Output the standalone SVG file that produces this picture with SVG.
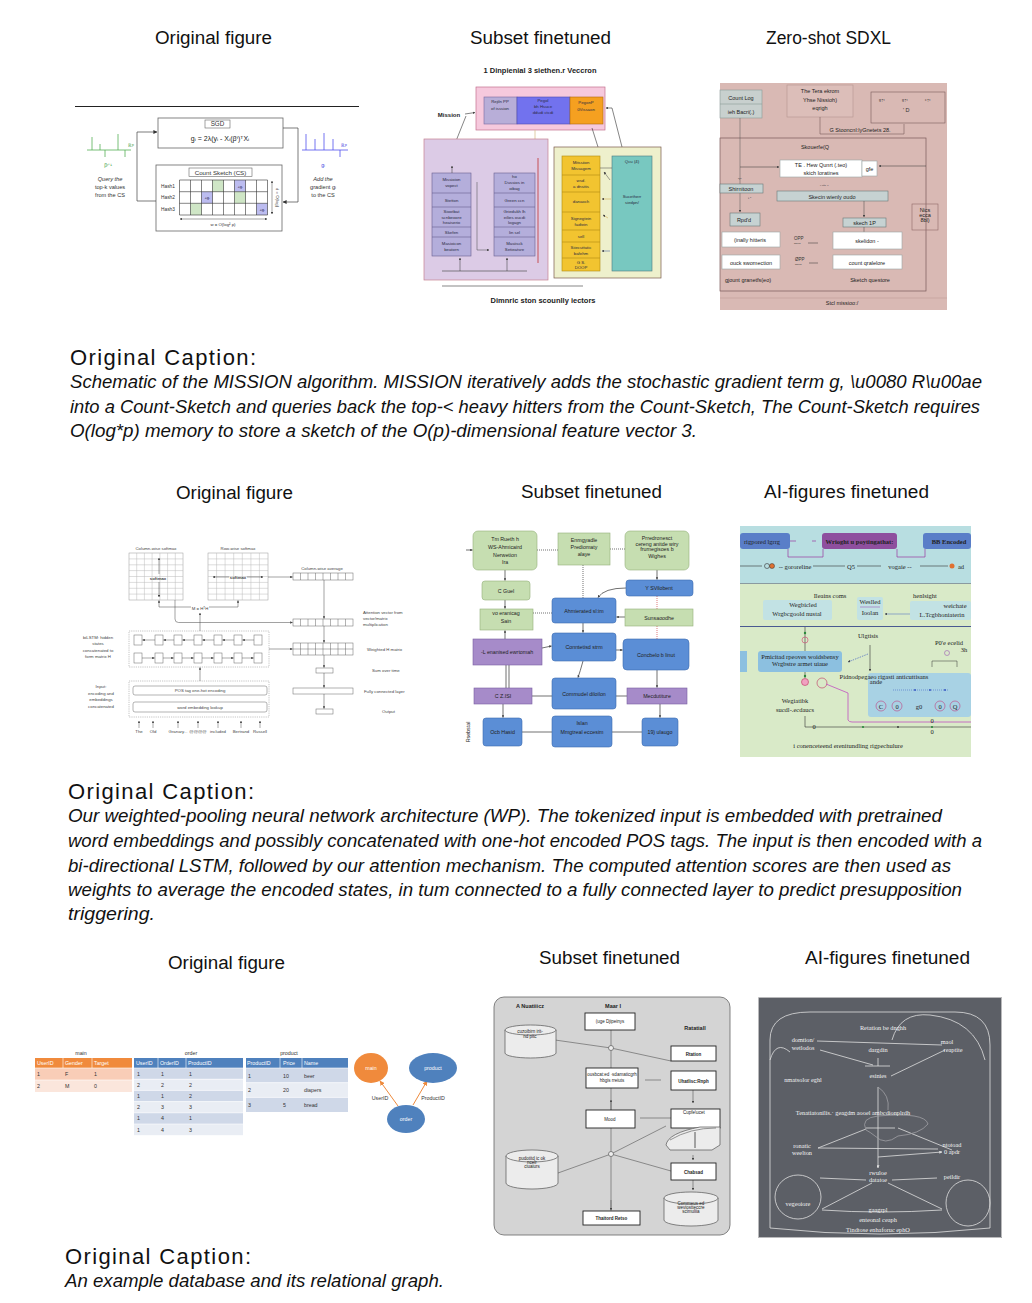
<svg xmlns="http://www.w3.org/2000/svg" width="1032" height="1303" viewBox="0 0 1032 1303">
<style>
.h{font-family:"Liberation Sans",Arial,sans-serif;font-size:18px;fill:#111;text-anchor:middle}
.cap{font-family:"Liberation Sans",Arial,sans-serif;font-size:22px;fill:#111}
.capi{font-family:"Liberation Sans",Arial,sans-serif;font-size:18px;font-style:italic;fill:#111}
.s{font-family:"Liberation Sans",Arial,sans-serif}
.m{text-anchor:middle}
.ln{fill:none;stroke:#444;stroke-width:0.7}
.g4{fill:none;stroke:#666;stroke-width:0.5}
.c4{fill:#fff;stroke:#666;stroke-width:0.5}
.t4{font-family:"Liberation Sans",Arial,sans-serif;font-size:4.3px;fill:#444}
.gr{fill:#c6deb1;stroke:#93b07a;stroke-width:0.6}
.bl{fill:#5b8ed6;stroke:#3d6cb0;stroke-width:0.6}
.pu{fill:#a68bc9;stroke:#7a60a0;stroke-width:0.6}
.t5{font-family:"Liberation Sans",Arial,sans-serif;font-size:5.3px;fill:#222;text-anchor:middle}
.l5{fill:none;stroke:#333;stroke-width:0.7}
.t6{font-family:"Liberation Serif","Times New Roman",serif;font-size:6.5px;fill:#222;text-anchor:middle}
.t7{font-family:"Liberation Sans",Arial,sans-serif;font-size:5.3px;fill:#333}
.th{font-family:"Liberation Sans",Arial,sans-serif;font-size:5.3px;fill:#fff}
.b8{fill:#fff;stroke:#222;stroke-width:0.9}
.t8{font-family:"Liberation Sans",Arial,sans-serif;font-size:4.5px;fill:#222;text-anchor:middle}
.l8{fill:none;stroke:#555;stroke-width:0.6}
.cy{fill:#ececec;stroke:#555;stroke-width:0.7}
.t9{font-family:"Liberation Serif","Times New Roman",serif;font-size:6.3px;fill:#f2f2f2;text-anchor:middle}
.l9{fill:none;stroke:#e0e0e0;stroke-width:0.8}
.t2{font-family:"Liberation Sans",Arial,sans-serif;font-size:4.3px;fill:#2a2a40;text-anchor:middle}
.t3{font-family:"Liberation Sans",Arial,sans-serif;font-size:5.5px;fill:#222;text-anchor:middle}
.w3{fill:#fff;stroke:#9aa6a6;stroke-width:0.6}
.k3{fill:#c6d2d2;stroke:#6a7878;stroke-width:0.6}
</style>
<defs>
<marker id="a" viewBox="0 0 10 10" refX="9" refY="5" markerWidth="4" markerHeight="4" orient="auto-start-reverse" markerUnits="userSpaceOnUse"><path d="M0,0L10,5L0,10z" fill="#333"/></marker>
<marker id="as" viewBox="0 0 10 10" refX="9" refY="5" markerWidth="2.6" markerHeight="2.6" orient="auto-start-reverse" markerUnits="userSpaceOnUse"><path d="M0,0L10,5L0,10z" fill="#444"/></marker>
<marker id="ao" viewBox="0 0 10 10" refX="9" refY="5" markerWidth="5" markerHeight="5" orient="auto-start-reverse" markerUnits="userSpaceOnUse"><path d="M0,0L10,5L0,10z" fill="#ee8a3c"/></marker>
<marker id="aw" viewBox="0 0 10 10" refX="9" refY="5" markerWidth="3" markerHeight="3" orient="auto-start-reverse" markerUnits="userSpaceOnUse"><path d="M0,0L10,5L0,10z" fill="#e0e0e0"/></marker>
</defs>
<rect width="1032" height="1303" fill="#fff"/>

<g id="headers">
<text class="h" x="213.5" y="44" textLength="117" lengthAdjust="spacingAndGlyphs">Original figure</text>
<text class="h" x="540.5" y="44" textLength="141" lengthAdjust="spacingAndGlyphs">Subset finetuned</text>
<text class="h" x="828.5" y="44" textLength="125" lengthAdjust="spacingAndGlyphs">Zero-shot SDXL</text>
<text class="h" x="234.5" y="499" textLength="117" lengthAdjust="spacingAndGlyphs">Original figure</text>
<text class="h" x="591.5" y="498" textLength="141" lengthAdjust="spacingAndGlyphs">Subset finetuned</text>
<text class="h" x="846.5" y="498" textLength="165" lengthAdjust="spacingAndGlyphs">AI-figures finetuned</text>
<text class="h" x="226.5" y="969" textLength="117" lengthAdjust="spacingAndGlyphs">Original figure</text>
<text class="h" x="609.5" y="964" textLength="141" lengthAdjust="spacingAndGlyphs">Subset finetuned</text>
<text class="h" x="887.5" y="964" textLength="165" lengthAdjust="spacingAndGlyphs">AI-figures finetuned</text>
</g>

<g id="captions">
<text class="cap" x="70" y="365" textLength="186" lengthAdjust="spacing">Original Caption:</text>
<text class="capi" x="70" y="388" textLength="912" lengthAdjust="spacingAndGlyphs">Schematic of the MISSION algorithm. MISSION iteratively adds the stochastic gradient term g, \u0080 R\u00ae</text>
<text class="capi" x="70" y="413" textLength="910" lengthAdjust="spacingAndGlyphs">into a Count-Sketch and queries back the top-&lt; heavy hitters from the Count-Sketch, The Count-Sketch requires</text>
<text class="capi" x="70" y="437" textLength="627" lengthAdjust="spacingAndGlyphs">O(log*p) memory to store a sketch of the O(p)-dimensional feature vector 3.</text>
<text class="cap" x="68" y="799" textLength="186" lengthAdjust="spacing">Original Caption:</text>
<text class="capi" x="68" y="822" textLength="874" lengthAdjust="spacingAndGlyphs">Our weighted-pooling neural network architecture (WP). The tokenized input is embedded with pretrained</text>
<text class="capi" x="68" y="847" textLength="914" lengthAdjust="spacingAndGlyphs">word embeddings and possibly concatenated with one-hot encoded POS tags. The input is then encoded with a</text>
<text class="capi" x="68" y="872" textLength="883" lengthAdjust="spacingAndGlyphs">bi-directional LSTM, followed by our attention mechanism. The computed attention scores are then used as</text>
<text class="capi" x="68" y="896" textLength="894" lengthAdjust="spacingAndGlyphs">weights to average the encoded states, in tum connected to a fully connected layer to predict presupposition</text>
<text class="capi" x="68" y="920" textLength="87" lengthAdjust="spacingAndGlyphs">triggering.</text>
<text class="cap" x="65" y="1264" textLength="186" lengthAdjust="spacing">Original Caption:</text>
<text class="capi" x="65" y="1287" textLength="379" lengthAdjust="spacingAndGlyphs">An example database and its relational graph.</text>
</g>

<!-- ===== Panel 1: original MISSION figure ===== -->
<g id="fig1-original" class="s">
<line x1="75" y1="106.5" x2="359" y2="106.5" stroke="#222" stroke-width="1.2"/>
<g id="sgd">
<rect x="158" y="118" width="125" height="30" fill="#fff" stroke="#666" stroke-width="0.8"/>
<rect x="205" y="120" width="25" height="8" fill="#fff" stroke="#666" stroke-width="0.6"/>
<text x="217.5" y="126.3" font-size="6.3" class="m" fill="#333">SGD</text>
<text x="220" y="141" font-size="7" class="m" fill="#222">gᵢ = 2λ(yᵢ - Xᵢ(βᵗ)ᵀXᵢ</text>
</g>
<g id="count-sketch">
<rect x="156" y="165" width="126" height="66" fill="#fff" stroke="#666" stroke-width="0.8"/>
<rect x="189" y="168" width="63" height="8.5" fill="#fff" stroke="#666" stroke-width="0.6"/>
<text x="220.5" y="174.6" font-size="6.2" class="m" fill="#333">Count Sketch (CS)</text>
<rect x="212.5" y="180" width="11" height="11.7" fill="#cfe6c6"/>
<rect x="234.5" y="180" width="11" height="11.7" fill="#bcbcf0"/>
<rect x="201.5" y="191.7" width="11" height="11.6" fill="#bcbcf0"/>
<rect x="234.5" y="191.7" width="11" height="11.6" fill="#cfe6c6"/>
<rect x="190.5" y="203.3" width="11" height="11.7" fill="#cfe6c6"/>
<rect x="256.5" y="203.3" width="11" height="11.7" fill="#bcbcf0"/>
<path d="M179.5,180H267.5V215H179.5Z M190.5,180V215 M201.5,180V215 M212.5,180V215 M223.5,180V215 M234.5,180V215 M245.5,180V215 M256.5,180V215 M179.5,191.7H267.5 M179.5,203.3H267.5" fill="none" stroke="#333" stroke-width="0.6"/>
<text x="240" y="187.5" font-size="4" class="m" fill="#224">+gᵢ</text>
<text x="207" y="199" font-size="4" class="m" fill="#224">+gᵢ</text>
<text x="262" y="210.5" font-size="4" class="m" fill="#224">+gᵢ</text>
<text x="168" y="187.8" font-size="4.8" class="m" fill="#333">Hash1</text>
<text x="168" y="199.4" font-size="4.8" class="m" fill="#333">Hash2</text>
<text x="168" y="211" font-size="4.8" class="m" fill="#333">Hash3</text>
<line x1="272" y1="181" x2="272" y2="214" stroke="#444" stroke-width="0.5" marker-start="url(#as)" marker-end="url(#as)"/>
<text transform="translate(276,197.5) rotate(90)" font-size="4.3" class="m" fill="#333">d = O(log)</text>
<line x1="180" y1="219" x2="267" y2="219" stroke="#444" stroke-width="0.5" marker-start="url(#as)" marker-end="url(#as)"/>
<text x="223" y="226" font-size="4.3" class="m" fill="#333">w = O(log² p)</text>
</g>
<path d="M156,201H137V132H157" class="ln" marker-end="url(#a)"/>
<path d="M283,128H298V202H283" class="ln" marker-end="url(#a)"/>
<g id="beta-chart" stroke="#55b055" stroke-width="0.8">
<line x1="87" y1="150" x2="131" y2="150"/>
<line x1="92" y1="150" x2="92" y2="137"/>
<line x1="100" y1="150" x2="100" y2="144"/>
<line x1="105" y1="150" x2="105" y2="157"/>
<line x1="118" y1="150" x2="118" y2="134"/>
<line x1="125" y1="150" x2="125" y2="157"/>
</g>
<text x="128" y="147" font-size="5" fill="#44a044">ℝᵖ</text>
<text x="108" y="167" font-size="5" class="m" fill="#44a044">βᵗ⁺¹</text>
<text x="110" y="181" font-size="5.6" class="m" fill="#333" font-style="italic">Query the</text>
<text x="110" y="189" font-size="5.6" class="m" fill="#333">top-k values</text>
<text x="110" y="197" font-size="5.6" class="m" fill="#333">from the CS</text>
<g id="grad-chart" stroke="#5050ee" stroke-width="0.8">
<line x1="302" y1="150" x2="348" y2="150"/>
<line x1="306" y1="150" x2="306" y2="134"/>
<line x1="315" y1="150" x2="315" y2="139"/>
<line x1="324" y1="150" x2="324" y2="133"/>
<line x1="333" y1="150" x2="333" y2="139"/>
<line x1="340" y1="150" x2="340" y2="157"/>
</g>
<text x="341" y="147" font-size="5" fill="#4040e0">ℝᵖ</text>
<text x="323" y="167" font-size="5" class="m" fill="#4040e0">gᵢ</text>
<text x="323" y="181" font-size="5.6" class="m" fill="#333" font-style="italic">Add the</text>
<text x="323" y="189" font-size="5.6" class="m" fill="#333">gradient gᵢ</text>
<text x="323" y="197" font-size="5.6" class="m" fill="#333">to the CS</text>
</g>

<!-- ===== Panel 2: subset finetuned (MISSION) ===== -->
<g id="fig1-subset" class="s">
<text x="540" y="73" font-size="7.5" font-weight="bold" class="m" fill="#222">1 Dinpienial 3 siethen.r Veccron</text>
<g id="p2-top">
<rect x="476" y="87" width="129" height="43" fill="#f6c9dd" stroke="#c4708e" stroke-width="0.7"/>
<rect x="484" y="97" width="33" height="27" fill="#b8aed8" stroke="#7a6aa0" stroke-width="0.6"/>
<rect x="517" y="97" width="53" height="27" fill="#7272ee" stroke="#4a4ab0" stroke-width="0.6"/>
<rect x="570" y="97" width="33" height="27" fill="#f5a020" stroke="#b06a10" stroke-width="0.6"/>
<text class="t2" x="500" y="103">Rejiln PP</text>
<text class="t2" x="500" y="110">of isssion</text>
<text class="t2" x="543" y="102">Pegol</text>
<text class="t2" x="543" y="108">bh Hsuce</text>
<text class="t2" x="543" y="114" fill="#3030a0">ddudi ctcdi</text>
<text class="t2" x="586" y="104">PegonP</text>
<text class="t2" x="586" y="111">0Vissaon</text>
</g>
<text x="449" y="117" font-size="6" font-weight="bold" class="m" fill="#222">Mission</text>
<line x1="465" y1="114" x2="475" y2="112.5" stroke="#333" stroke-width="0.6" marker-end="url(#as)"/>
<line x1="456" y1="141" x2="466" y2="116" stroke="#333" stroke-width="0.6"/>
<line x1="535" y1="130" x2="535" y2="139" stroke="#d8c090" stroke-width="0.8"/>
<line x1="592" y1="128" x2="598" y2="147" stroke="#333" stroke-width="0.6"/>
<path d="M606,108H612L622,147" fill="none" stroke="#333" stroke-width="0.6" marker-start="url(#as)"/>
<line x1="584" y1="147" x2="580" y2="153" stroke="#333" stroke-width="0.6" marker-end="url(#as)"/>
<g id="p2-purple">
<rect x="424" y="139" width="124" height="141" fill="#dccbe6" stroke="#c58090" stroke-width="0.7"/>
<rect x="432" y="173" width="39" height="83" fill="#b4aedb" stroke="#6a6090" stroke-width="0.6"/>
<path d="M432,193H471M432,207H471M432,227H471M432,237H471" stroke="#6a6090" stroke-width="0.6"/>
<rect x="494" y="173" width="41" height="83" fill="#b4aedb" stroke="#6a6090" stroke-width="0.6"/>
<path d="M494,193H535M494,207H535M494,227H535M494,237H535" stroke="#6a6090" stroke-width="0.6"/>
<text class="t2" x="451.5" y="181">Missioion</text>
<text class="t2" x="451.5" y="187">vopect</text>
<text class="t2" x="451.5" y="202">Stetton</text>
<text class="t2" x="451.5" y="213">Siootbat</text>
<text class="t2" x="451.5" y="218.5">scnbeoore</text>
<text class="t2" x="451.5" y="224">heaiserio</text>
<text class="t2" x="451.5" y="234">Skefen</text>
<text class="t2" x="451.5" y="245">Masioicon</text>
<text class="t2" x="451.5" y="251">beatorn</text>
<text class="t2" x="514.5" y="178">ho</text>
<text class="t2" x="514.5" y="184">Dussios in</text>
<text class="t2" x="514.5" y="190">oibag</text>
<text class="t2" x="514.5" y="202">Green ccn</text>
<text class="t2" x="514.5" y="213">Griedukh lh</text>
<text class="t2" x="514.5" y="218.5">eilies oucdi</text>
<text class="t2" x="514.5" y="224">logagn</text>
<text class="t2" x="514.5" y="234">lin sel</text>
<text class="t2" x="514.5" y="245">Masiisck</text>
<text class="t2" x="514.5" y="251">Setieatsre</text>
<line x1="452" y1="173" x2="452" y2="166" stroke="#333" stroke-width="0.5" marker-end="url(#as)"/>
<path d="M477,182V250H489" fill="none" stroke="#444" stroke-width="0.5" marker-end="url(#as)"/>
<line x1="538" y1="158" x2="538" y2="263" stroke="#c03030" stroke-width="0.8"/>
<line x1="442" y1="271" x2="527" y2="271" stroke="#555" stroke-width="0.7"/>
<line x1="460" y1="271" x2="460" y2="258" stroke="#333" stroke-width="0.5" marker-end="url(#as)"/>
<line x1="507" y1="271" x2="507" y2="258" stroke="#333" stroke-width="0.5" marker-end="url(#as)"/>
</g>
<g id="p2-yellow">
<rect x="554" y="147" width="107" height="131" fill="#eef0cc" stroke="#7a5a4a" stroke-width="0.7"/>
<rect x="562" y="156" width="38" height="115" fill="#f2c430" stroke="#b08a10" stroke-width="0.6"/>
<path d="M562,175H600M562,192H600M562,212H600M562,230H600M562,242H600M562,258H600" stroke="#b08a10" stroke-width="0.6"/>
<rect x="612" y="156" width="40" height="115" fill="#78c8c0" stroke="#4a7a80" stroke-width="0.6"/>
<text class="t2" x="581" y="164">Mitssiion</text>
<text class="t2" x="581" y="170">Missagem</text>
<text class="t2" x="581" y="182">wsd.</text>
<text class="t2" x="581" y="188">a dnsitis</text>
<text class="t2" x="581" y="203">danaoch</text>
<text class="t2" x="581" y="220">Signegtein</text>
<text class="t2" x="581" y="226">fadtein</text>
<text class="t2" x="581" y="238">sell</text>
<text class="t2" x="581" y="249">Siiecuttatic</text>
<text class="t2" x="581" y="255">bafehm</text>
<text class="t2" x="581" y="264">G S.</text>
<text class="t2" x="581" y="269">DOOP</text>
<text class="t2" x="632" y="163">Qcu (4)</text>
<text class="t2" x="632" y="198">Sucetherr</text>
<text class="t2" x="632" y="204">siedpn/</text>
<line x1="600" y1="168" x2="612" y2="168" stroke="#444" stroke-width="0.5"/>
<line x1="604" y1="172" x2="610" y2="180" stroke="#444" stroke-width="0.5" marker-start="url(#as)"/>
<line x1="602" y1="199" x2="611" y2="199" stroke="#c8a040" stroke-width="0.5" marker-start="url(#as)"/>
<line x1="603" y1="215" x2="608" y2="218" stroke="#c8a040" stroke-width="0.5" marker-start="url(#as)"/>
<line x1="602" y1="251" x2="610" y2="251" stroke="#3050a0" stroke-width="0.5" marker-start="url(#as)"/>
</g>
<line x1="442" y1="286" x2="583" y2="286" stroke="#555" stroke-width="0.7"/>
<text x="543" y="303" font-size="7.5" font-weight="bold" class="m" fill="#222">Dimnric ston scounlly iectors</text>
</g>

<!-- ===== Panel 3: zero-shot SDXL ===== -->
<g id="fig1-sdxl" class="s">
<rect x="720" y="83" width="227" height="227" fill="#d9b9b4"/>
<rect x="720" y="90" width="42" height="28" fill="#c8d0ce" stroke="#8a9a98" stroke-width="0.6"/>
<line x1="720" y1="104" x2="762" y2="104" stroke="#8a9a98" stroke-width="0.6"/>
<text class="t3" x="741" y="100">Count Log</text>
<text class="t3" x="741" y="114">ieh Bacri(.)</text>
<rect x="787" y="85" width="66" height="32" fill="#dcbeb9" stroke="#b59590" stroke-width="0.6"/>
<text class="t3" x="820" y="93">The  Tera ekrom</text>
<text class="t3" x="820" y="101.5">Yhse Nissioh)</text>
<text class="t3" x="820" y="110">eqrigh</text>
<path d="M820,117V134H904V124" fill="none" stroke="#7a5a5a" stroke-width="0.6"/>
<text class="t3" x="860" y="132" fill="#333">G Stooncnl:lyGnetets  28.</text>
<rect x="871" y="92" width="74" height="31" fill="none" stroke="#7a5a5a" stroke-width="0.6"/>
<text x="879" y="102" font-size="5" fill="#333" class="s">ᵍ↑ᵗ</text>
<text x="902" y="102" font-size="5" fill="#333" class="s">ᵍ↑ᵗ</text>
<text x="925" y="102" font-size="5" fill="#333" class="s">ᶜ↑ᵗ</text>
<text x="903" y="112" font-size="5.5" fill="#333" class="s">' D</text>
<rect x="720" y="138" width="206" height="153" fill="none" stroke="#7a5a5a" stroke-width="0.7"/>
<text class="t3" x="815" y="149">Skouerfe(Q</text>
<rect x="780" y="160" width="82" height="17" class="w3"/>
<text class="t3" x="821" y="167">TE . Hew Qunrt (.teo)</text>
<text class="t3" x="821" y="174.5">skich Ioratines</text>
<rect x="862" y="161" width="15" height="15" class="w3"/>
<text class="t3" x="869.5" y="170.5" font-size="4.5">gfe</text>
<line x1="740" y1="167" x2="779" y2="167" stroke="#333" stroke-width="0.5" marker-end="url(#as)"/>
<line x1="926" y1="166" x2="879" y2="166" stroke="#333" stroke-width="0.5" marker-end="url(#as)"/>
<line x1="740" y1="118" x2="740" y2="184" stroke="#555" stroke-width="0.5"/>
<line x1="740" y1="193" x2="740" y2="212" stroke="#555" stroke-width="0.5" marker-end="url(#as)"/>
<text x="738" y="180" font-size="3.5" fill="#444" class="s">ʰʲᵃ</text>
<rect x="720" y="184" width="43" height="9" class="k3"/>
<text class="t3" x="741" y="190.5">Shirnitoon</text>
<text x="748" y="199" font-size="3.5" fill="#444" class="s">ꜰ  ᶜ</text>
<text x="820" y="187" font-size="3.5" fill="#444" class="s">ᵛ  ᶜᵗᵗᵉ         ᵉ</text>
<rect x="777" y="191" width="111" height="10" class="k3"/>
<text class="t3" x="832" y="198.5">Skecin wienly oudo</text>
<line x1="864" y1="201" x2="864" y2="217" stroke="#444" stroke-width="0.5" marker-end="url(#as)"/>
<rect x="843" y="218" width="43" height="9" class="k3"/>
<text class="t3" x="864.5" y="224.5">skech 1P</text>
<line x1="864" y1="227" x2="864" y2="237" stroke="#444" stroke-width="0.5"/>
<rect x="730" y="213" width="30" height="13" class="k3"/>
<text class="t3" x="744" y="221.5">Rpd'd</text>
<rect x="722" y="232" width="58" height="15" class="w3"/>
<text class="t3" x="750" y="242">(inally hitteris</text>
<rect x="722" y="255" width="58" height="14" class="w3"/>
<text class="t3" x="751" y="264.5">ouck swomection</text>
<rect x="833" y="232" width="69" height="17" class="w3"/>
<text class="t3" x="867" y="243">skelidon -</text>
<rect x="833" y="255" width="69" height="14" class="w3"/>
<text class="t3" x="867" y="264.5">count qralelore</text>
<text x="794" y="240" font-size="4.5" fill="#333" class="s">OPP</text>
<text x="794" y="244" font-size="2.5" fill="#333" class="s">ssees</text>
<line x1="808" y1="243" x2="818" y2="243" stroke="#333" stroke-width="0.5"/>
<text x="795" y="261" font-size="4.5" fill="#333" class="s">ØPP</text>
<text x="795" y="265" font-size="2.5" fill="#333" class="s">ssees</text>
<line x1="809" y1="263" x2="818" y2="263" stroke="#333" stroke-width="0.5"/>
<text class="t3" x="748" y="282">gjount granetfs(eo)</text>
<text class="t3" x="870" y="282">Sketch questore</text>
<rect x="912" y="204" width="26" height="26" fill="none" stroke="#906868" stroke-width="0.6"/>
<text class="t3" x="925" y="212" font-size="4">Nics</text>
<text class="t3" x="925" y="217" font-size="4">ecca</text>
<text class="t3" x="925" y="222" font-size="4">8bl)</text>
<line x1="720" y1="298" x2="947" y2="298" stroke="#c09c98" stroke-width="0.6"/>
<text class="t3" x="842" y="305">Stcl missioo:/</text>
</g>

<!-- ===== Panel 4: original WP architecture ===== -->
<g id="fig2-original">
<text class="t4" x="156" y="549.5" text-anchor="middle">Column-wise softmax</text>
<text class="t4" x="238" y="549.5" text-anchor="middle">Row-wise softmax</text>
<g id="col-softmax">
<rect x="129" y="553" width="54" height="47" fill="#fff" stroke="#999" stroke-width="0.5"/>
<path d="M136.7,553V600M144.4,553V600M152.1,553V600M159.9,553V600M167.6,553V600M175.3,553V600M129,558.9H183M129,564.8H183M129,570.6H183M129,576.5H183M129,582.4H183M129,588.3H183M129,594.1H183" stroke="#bbb" stroke-width="0.5"/>
<line x1="159" y1="574" x2="159" y2="558" stroke="#444" stroke-width="0.5" marker-end="url(#as)"/>
<line x1="159" y1="582" x2="159" y2="597" stroke="#444" stroke-width="0.5" marker-end="url(#as)"/>
<text class="t4" x="158" y="579.5" text-anchor="middle" font-weight="bold" fill="#222">softmax</text>
</g>
<g id="row-softmax">
<rect x="208" y="553" width="60" height="47" fill="#fff" stroke="#999" stroke-width="0.5"/>
<path d="M216.6,553V600M225.1,553V600M233.7,553V600M242.3,553V600M250.9,553V600M259.4,553V600M208,558.9H268M208,564.8H268M208,570.6H268M208,576.5H268M208,582.4H268M208,588.3H268M208,594.1H268" stroke="#bbb" stroke-width="0.5"/>
<line x1="229" y1="577" x2="213" y2="577" stroke="#444" stroke-width="0.5" marker-end="url(#as)"/>
<line x1="247" y1="577" x2="263" y2="577" stroke="#444" stroke-width="0.5" marker-end="url(#as)"/>
<text class="t4" x="238" y="579" text-anchor="middle" font-weight="bold" fill="#222">softmax</text>
</g>
<text class="t4" x="322" y="569.5" text-anchor="middle">Column-wise average</text>
<g id="vec-avg">
<rect x="293" y="573" width="60" height="7" class="c4"/>
<path d="M300.5,573V580M308,573V580M315.5,573V580M323,573V580M330.5,573V580M338,573V580M345.5,573V580" class="g4"/>
</g>
<g id="vec-att">
<rect x="293" y="619" width="60" height="7" class="c4"/>
<path d="M300.5,619V626M308,619V626M315.5,619V626M323,619V626M330.5,619V626M338,619V626M345.5,619V626" class="g4"/>
</g>
<g id="weighted-h">
<rect x="293" y="643" width="60" height="12" class="c4"/>
<path d="M300.5,643V655M308,643V655M315.5,643V655M323,643V655M330.5,643V655M338,643V655M345.5,643V655M293,649H353" class="g4"/>
</g>
<rect id="sum" x="316" y="668" width="17" height="5" class="c4"/>
<rect id="fc" x="293" y="688" width="60" height="6" class="c4"/>
<rect id="out" x="316" y="709" width="17" height="5" class="c4"/>
<text class="t4" x="363" y="614">Attention vector from</text>
<text class="t4" x="363" y="620">vector/matrix</text>
<text class="t4" x="363" y="626">multiplication</text>
<text class="t4" x="367" y="650.5">Weighted H matrix</text>
<text class="t4" x="372" y="672">Sum over time</text>
<text class="t4" x="364" y="692.5">Fully connected layer</text>
<text class="t4" x="382" y="713">Output</text>
<g id="bilstm">
<rect x="129" y="631" width="140" height="36" fill="none" stroke="#888" stroke-width="0.5" stroke-dasharray="1.2,1"/>
<g class="c4">
<rect x="134" y="635" width="8" height="10"/><rect x="155" y="635" width="8" height="10"/><rect x="174" y="635" width="8" height="10"/><rect x="194" y="635" width="8" height="10"/><rect x="214" y="635" width="8" height="10"/><rect x="234" y="635" width="8" height="10"/><rect x="254" y="635" width="8" height="10"/>
<rect x="134" y="653" width="8" height="10"/><rect x="155" y="653" width="8" height="10"/><rect x="174" y="653" width="8" height="10"/><rect x="194" y="653" width="8" height="10"/><rect x="214" y="653" width="8" height="10"/><rect x="234" y="653" width="8" height="10"/><rect x="254" y="653" width="8" height="10"/>
</g>
<g stroke="#444" stroke-width="0.45" marker-end="url(#as)">
<line x1="155" y1="640" x2="142.5" y2="640"/><line x1="174" y1="640" x2="163.5" y2="640"/><line x1="194" y1="640" x2="182.5" y2="640"/><line x1="214" y1="640" x2="202.5" y2="640"/><line x1="234" y1="640" x2="222.5" y2="640"/><line x1="254" y1="640" x2="242.5" y2="640"/>
<line x1="142" y1="658" x2="154.5" y2="658"/><line x1="163" y1="658" x2="173.5" y2="658"/><line x1="182" y1="658" x2="193.5" y2="658"/><line x1="202" y1="658" x2="213.5" y2="658"/><line x1="222" y1="658" x2="233.5" y2="658"/><line x1="242" y1="658" x2="253.5" y2="658"/>
</g>
</g>
<text class="t4" x="98" y="639" text-anchor="middle">biLSTM: hidden</text>
<text class="t4" x="98" y="645" text-anchor="middle">states</text>
<text class="t4" x="98" y="651.5" text-anchor="middle">concatenated to</text>
<text class="t4" x="98" y="658" text-anchor="middle">form matrix H</text>
<g id="input">
<rect x="129" y="681" width="140" height="36" fill="none" stroke="#888" stroke-width="0.5" stroke-dasharray="1.2,1"/>
<rect x="133" y="686" width="134" height="9" rx="2" class="c4"/>
<rect x="133" y="702" width="134" height="10" rx="2" class="c4"/>
<text class="t4" x="200" y="692.3" text-anchor="middle" font-size="4.8">POS tag one-hot encoding</text>
<text class="t4" x="200" y="708.5" text-anchor="middle" font-size="4.8">word embedding lookup</text>
</g>
<text class="t4" x="101" y="688" text-anchor="middle">Input:</text>
<text class="t4" x="101" y="694.5" text-anchor="middle">encoding and</text>
<text class="t4" x="101" y="701" text-anchor="middle">embeddings</text>
<text class="t4" x="101" y="707.5" text-anchor="middle">concatenated</text>
<g stroke="#444" stroke-width="0.45" marker-end="url(#as)">
<line x1="139" y1="728" x2="139" y2="721"/><line x1="153" y1="728" x2="153" y2="721"/><line x1="178" y1="728" x2="178" y2="721"/><line x1="198" y1="728" x2="198" y2="721"/><line x1="218" y1="728" x2="218" y2="721"/><line x1="241" y1="728" x2="241" y2="721"/><line x1="260" y1="728" x2="260" y2="721"/>
</g>
<g class="t4" font-size="3.3" text-anchor="middle">
<text x="139" y="733">The</text><text x="153" y="733">Old</text><text x="178" y="733">Granary...</text><text x="198" y="733">@@@@</text><text x="218" y="733">included</text><text x="241" y="733">Bertrand</text><text x="260" y="733">Russell</text>
</g>
<g id="p4-connectors" fill="none" stroke="#444" stroke-width="0.5">
<line x1="200" y1="681" x2="200" y2="667.5" marker-end="url(#as)"/>
<line x1="200" y1="631" x2="200" y2="613" marker-end="url(#as)"/>
<path d="M159,607H191M209,607H238"/>
<line x1="159" y1="607" x2="159" y2="600.5" marker-end="url(#as)"/>
<line x1="238" y1="607" x2="238" y2="600.5" marker-end="url(#as)"/>
<path d="M175,600V619Q175,622.5 178.5,622.5H292.5" marker-end="url(#as)"/>
<line x1="268" y1="577" x2="292.5" y2="577" marker-end="url(#as)"/>
<line x1="324" y1="580" x2="324" y2="618.5" marker-end="url(#as)"/>
<line x1="324" y1="626" x2="324" y2="642.5" marker-end="url(#as)"/>
<line x1="269" y1="649" x2="292.5" y2="649" marker-end="url(#as)"/>
<line x1="324" y1="655" x2="324" y2="667.5" marker-end="url(#as)"/>
<line x1="324" y1="673" x2="324" y2="687.5" marker-end="url(#as)"/>
<line x1="324" y1="694" x2="324" y2="708.5" marker-end="url(#as)"/>
</g>
<text class="t4" x="200" y="609.5" text-anchor="middle" font-size="4">M = HᵀH</text>
</g>

<!-- ===== Panel 5: subset finetuned (WP) ===== -->
<g id="fig2-subset">
<g id="p5-connectors" class="l5">
<line x1="466" y1="550" x2="472.5" y2="550" marker-end="url(#as)"/>
<path d="M537,550H558M610,549H625M583,565V598M533,613H552" stroke-dasharray="1,1"/>
<line x1="505" y1="570" x2="505" y2="580.5" marker-end="url(#as)"/>
<line x1="505" y1="600" x2="505" y2="608.5" marker-end="url(#as)"/>
<line x1="505" y1="639" x2="505" y2="630.5" marker-end="url(#as)"/>
<line x1="583" y1="623" x2="583" y2="632.5" marker-end="url(#as)"/>
<line x1="657" y1="570" x2="657" y2="579.5" marker-end="url(#as)"/>
<path d="M626,588Q604,588 598,597.5" marker-end="url(#as)"/>
<path d="M657,596V609M657,626V639" stroke="#d04040" stroke-dasharray="1,1"/>
<line x1="625" y1="617" x2="616.5" y2="617" marker-end="url(#as)"/>
<line x1="542" y1="648" x2="551.5" y2="646" marker-end="url(#as)"/>
<line x1="616" y1="650" x2="622.5" y2="650" marker-end="url(#as)"/>
<path d="M583,661Q580,672 578,677.5" marker-end="url(#as)"/>
<path d="M506,665V688M509,665V688"/>
<line x1="532" y1="696" x2="552" y2="696"/>
<line x1="616" y1="696" x2="627" y2="696"/>
<line x1="657" y1="670" x2="657" y2="687.5" marker-end="url(#as)"/>
<line x1="503" y1="704" x2="503" y2="717.5" marker-end="url(#as)"/>
<line x1="660" y1="704" x2="660" y2="717.5" marker-end="url(#as)"/>
<line x1="522" y1="732" x2="552" y2="732"/>
<line x1="612" y1="732" x2="642" y2="732"/>
</g>
<rect x="473" y="531" width="64" height="39" rx="5" class="gr"/>
<text class="t5" x="505" y="541">Tm Rueth h</text>
<text class="t5" x="505" y="549">WS-Ahmicaird</text>
<text class="t5" x="505" y="557">Nerwetion</text>
<text class="t5" x="505" y="564" font-size="3.5">Ira</text>
<rect x="558" y="533" width="52" height="32" class="gr"/>
<text class="t5" x="584" y="542" font-size="4">Enmgyadle</text>
<text class="t5" x="584" y="549" font-size="4.5">Prediomaty</text>
<text class="t5" x="584" y="556" font-size="4">alaye</text>
<rect x="625" y="531" width="64" height="39" rx="5" class="gr"/>
<text class="t5" x="657" y="540" font-size="4.5">Prredronesct</text>
<text class="t5" x="657" y="546" font-size="3.3">cereng anitde wiry</text>
<text class="t5" x="657" y="551" font-size="3.3">frumegisoes b</text>
<text class="t5" x="657" y="558" font-size="4.5">Wighes</text>
<rect x="482" y="581" width="48" height="19" rx="3" class="gr"/>
<text class="t5" x="506" y="592.5">C Guel</text>
<rect x="480" y="609" width="53" height="21" class="gr"/>
<text class="t5" x="506" y="615" font-size="3.5">vo eranicag</text>
<text class="t5" x="506" y="623">Sain</text>
<rect x="552" y="598" width="64" height="25" rx="3" class="bl"/>
<text class="t5" x="584" y="612.5">Ahmierated sl:im</text>
<rect x="626" y="580" width="67" height="16" rx="3" class="bl"/>
<text class="t5" x="659" y="590">Y SVilobent</text>
<rect x="625" y="609" width="68" height="17" class="gr"/>
<text class="t5" x="659" y="619.5">Sunsaoodhe</text>
<rect x="473" y="639" width="69" height="26" class="pu"/>
<text class="t5" x="507" y="654">-L enanised ewrtomah</text>
<rect x="552" y="633" width="64" height="28" rx="3" class="bl"/>
<text class="t5" x="584" y="649">Conntetisd strm</text>
<rect x="623" y="639" width="66" height="31" rx="4" class="bl"/>
<text class="t5" x="656" y="657">Concbelo b linut</text>
<rect x="474" y="688" width="58" height="16" class="pu"/>
<text class="t5" x="503" y="698">C Z.ISI</text>
<rect x="552" y="678" width="64" height="31" rx="3" class="bl"/>
<text class="t5" x="584" y="696">Commudel diloilon</text>
<rect x="627" y="688" width="60" height="16" class="pu"/>
<text class="t5" x="657" y="698">Mecdutiture</text>
<rect x="483" y="718" width="39" height="28" rx="3" class="bl"/>
<text class="t5" x="502.5" y="734">Ocb Hasid</text>
<rect x="552" y="716" width="60" height="31" rx="3" class="bl"/>
<text class="t5" x="582" y="725" font-size="3.5">Islan</text>
<text class="t5" x="582" y="734">Mmgtreal eccesim</text>
<rect x="642" y="718" width="36" height="28" rx="3" class="bl"/>
<text class="t5" x="660" y="734">19) ulaugo</text>
<text class="t5" transform="translate(470,732) rotate(-90)" font-size="3.3">Rsebstal</text>
</g>

<!-- ===== Panel 6: AI-figures finetuned (WP) ===== -->
<g id="fig2-ai">
<rect x="740" y="526" width="231" height="231" fill="#d9eac8"/>
<rect x="740" y="526" width="231" height="57" fill="#b8dee1"/>
<line x1="740" y1="583.5" x2="971" y2="583.5" stroke="#8a9aa0" stroke-width="1.2"/>
<rect x="740" y="533" width="50" height="16" rx="3" fill="#5a7ec8"/>
<text class="t6" x="762" y="543.5" fill="#fff" font-size="5.5">rigpored lgrrg</text>
<rect x="822" y="533" width="75" height="16" rx="3" fill="#8e4f9e"/>
<text class="t6" x="859.5" y="543.5" fill="#fff" font-size="5.5" font-weight="bold">Wrioght u poytingathat:</text>
<rect x="923" y="533" width="48" height="16" rx="3" fill="#5a7ec8"/>
<text class="t6" x="949" y="543.5" fill="#fff" font-size="5.5" font-weight="bold">BB Encoded</text>
<path d="M790,541H796M812,541H816M788,549V557H823V549M897,549V557H925V549" fill="none" stroke="#9a3aa0" stroke-width="0.7"/>
<g stroke="#333" stroke-width="0.6">
<line x1="740" y1="566" x2="762" y2="566"/><line x1="813" y1="566" x2="845" y2="566"/><line x1="857" y1="566" x2="881" y2="566"/><line x1="920" y1="566" x2="948" y2="566"/>
</g>
<circle cx="767" cy="566" r="2.5" fill="none" stroke="#333" stroke-width="0.6"/>
<circle cx="772" cy="566" r="2.5" fill="#e07030" stroke="#333" stroke-width="0.5"/>
<text class="t6" x="795" y="568.5" font-size="7">-- gororeline</text>
<text class="t6" x="851" y="568.5" font-size="7">Q5</text>
<text class="t6" x="900" y="568.5" font-size="7">vogaie --</text>
<circle cx="952" cy="566" r="2.5" fill="#e07030"/>
<text class="t6" x="961" y="568.5" font-size="7">ad</text>
<text class="t6" x="830" y="598">Ileains coms</text>
<rect x="763" y="600" width="69" height="20" rx="2" fill="#c2e2e4"/>
<text class="t6" x="803" y="607">Wegbicled</text>
<text class="t6" x="797" y="616">Wrgbcgoold nustal</text>
<rect x="857" y="597" width="26" height="23" rx="2" fill="#c2e2e4"/>
<text class="t6" x="870" y="604" font-size="5">Weslled</text>
<path d="M860,607H880" stroke="#9040b0" stroke-width="0.5"/>
<text class="t6" x="870" y="615" font-size="5.5">Ioolan</text>
<line x1="910" y1="614" x2="885" y2="614" stroke="#4060c0" stroke-width="0.5" marker-end="url(#as)"/>
<text class="t6" x="925" y="598">henlsight</text>
<rect x="910" y="601" width="61" height="19" rx="2" fill="#c2e2e4"/>
<text class="t6" x="955" y="608">weichate</text>
<text class="t6" x="942" y="616.5">L.Tcgbhoniaterin</text>
<line x1="740" y1="626.5" x2="971" y2="626.5" stroke="#3a4a8a" stroke-width="0.9"/>
<line x1="805" y1="627" x2="805" y2="651" stroke="#333" stroke-width="0.6"/>
<circle cx="805" cy="633" r="1.2" fill="#2a8a3a"/>
<circle cx="805" cy="640" r="3" fill="none" stroke="#d04070" stroke-width="0.6"/>
<text class="t6" x="868" y="638">Ulgtisis</text>
<line x1="870" y1="645" x2="870" y2="671" stroke="#333" stroke-width="0.6" marker-end="url(#as)"/>
<rect x="740" y="651" width="7" height="21" fill="#8cc0e0"/>
<rect x="758" y="651" width="84" height="21" rx="3" fill="#8cc0e0"/>
<text class="t6" x="800" y="659" font-size="3.6">Pmicitad rpeoves woidsbensy</text>
<text class="t6" x="800" y="666" font-size="3.6">Wrgbstre armet uiaue</text>
<line x1="868" y1="654" x2="848" y2="662" stroke="#3050c0" stroke-width="0.6" stroke-dasharray="1.5,1" marker-end="url(#as)"/>
<line x1="805" y1="672" x2="805" y2="678" stroke="#333" stroke-width="0.6"/>
<circle cx="805" cy="676" r="1.2" fill="#2a8a3a"/>
<circle cx="805" cy="682" r="3.5" fill="#f0a0c0" stroke="#c03060" stroke-width="0.6"/>
<circle cx="822" cy="683" r="5" fill="none" stroke="#c03060" stroke-width="0.6"/>
<text class="t6" x="949" y="645" font-size="5">P0'e ecelid</text>
<text class="t6" x="964" y="652" font-size="5">3h</text>
<circle cx="947" cy="653" r="2.5" fill="none" stroke="#9040b0" stroke-width="0.5"/>
<path d="M932,667V661H957V667" fill="none" stroke="#333" stroke-width="0.5"/>
<rect x="868" y="673" width="103" height="44" rx="3" fill="#a8d2e4"/>
<text class="t6" x="876" y="684" font-size="3.6">ande</text>
<text class="t6" x="884" y="679" font-size="3.4" text-anchor="start">Pidnodpegaeo rigasti anticuttisans</text>
<line x1="893" y1="690" x2="948" y2="690" stroke="#3050c0" stroke-width="0.5" stroke-dasharray="1,1"/>
<circle cx="915" cy="690" r="0.9" fill="#3050c0"/><circle cx="930" cy="690" r="0.9" fill="#3050c0"/><circle cx="945" cy="690" r="0.9" fill="#3050c0"/>
<g fill="none" stroke="#c04080" stroke-width="0.6">
<circle cx="881" cy="706" r="5"/><circle cx="897" cy="706" r="5"/><circle cx="940" cy="706" r="5"/><circle cx="955" cy="706" r="5"/>
</g>
<text class="t6" x="881" y="708.5">C</text><text class="t6" x="897" y="708.5">0</text><text class="t6" x="919" y="708.5">g0</text><text class="t6" x="940" y="708.5">0</text><text class="t6" x="955" y="708.5">Q</text>
<path d="M826,684L848,693V720Q849,722 852,722H971" fill="none" stroke="#c050c0" stroke-width="0.8"/>
<text class="t6" x="795" y="703">Wegiatibk</text>
<text class="t6" x="795" y="712">sucdl-.ecdaucs</text>
<path d="M805,716V727H971" fill="none" stroke="#333" stroke-width="0.6"/>
<text class="t6" x="814" y="729">0</text>
<circle cx="863" cy="727" r="1.1" fill="#2a8a3a"/><circle cx="898" cy="727" r="0.9" fill="#333"/><circle cx="932" cy="727" r="1.1" fill="#2a8a3a"/>
<text class="t6" x="932" y="723" font-size="5">0</text><text class="t6" x="932" y="734" font-size="5">0</text>
<text class="t6" x="848" y="748" font-size="8">i  conenceteend erenitundling rigpechulure</text>
</g>

<!-- ===== Panel 7: original database tables + graph ===== -->
<g id="fig3-original">
<g id="tbl-main">
<text class="t7" x="81" y="1054.5" text-anchor="middle" font-size="6">main</text>
<rect x="35" y="1058" width="97" height="10" fill="#f08a3c"/>
<rect x="35" y="1068" width="97" height="12" fill="#f9cdb7"/>
<rect x="35" y="1080" width="97" height="12" fill="#fbe6dc"/>
<path d="M35,1068H132M35,1080H132M63,1058V1068M92,1058V1068" stroke="#fff" stroke-width="0.6"/>
<text class="th" x="37" y="1065">UserID</text><text class="th" x="65" y="1065">Gender</text><text class="th" x="94" y="1065">Target</text>
<text class="t7" x="37" y="1076">1</text><text class="t7" x="65" y="1076">F</text><text class="t7" x="94" y="1076">1</text>
<text class="t7" x="37" y="1088">2</text><text class="t7" x="65" y="1088">M</text><text class="t7" x="94" y="1088">0</text>
</g>
<g id="tbl-order">
<text class="t7" x="191" y="1054.5" text-anchor="middle" font-size="6">order</text>
<rect x="134" y="1058" width="109" height="10" fill="#4f81bd"/>
<rect x="134" y="1068" width="109" height="11.2" fill="#cfd8e8"/>
<rect x="134" y="1079.2" width="109" height="11.2" fill="#e9edf4"/>
<rect x="134" y="1090.4" width="109" height="11.2" fill="#cfd8e8"/>
<rect x="134" y="1101.6" width="109" height="11.2" fill="#e9edf4"/>
<rect x="134" y="1112.8" width="109" height="11.2" fill="#cfd8e8"/>
<rect x="134" y="1124" width="109" height="11.2" fill="#e9edf4"/>
<path d="M134,1068H243M134,1079.2H243M134,1090.4H243M134,1101.6H243M134,1112.8H243M134,1124H243M158,1058V1068M186,1058V1068" stroke="#fff" stroke-width="0.6"/>
<text class="th" x="136" y="1065">UserID</text><text class="th" x="160" y="1065">OrderID</text><text class="th" x="188" y="1065">ProductID</text>
<g class="t7">
<text x="137" y="1075.5">1</text><text x="161" y="1075.5">1</text><text x="189" y="1075.5">1</text>
<text x="137" y="1086.7">2</text><text x="161" y="1086.7">2</text><text x="189" y="1086.7">2</text>
<text x="137" y="1097.9">1</text><text x="161" y="1097.9">1</text><text x="189" y="1097.9">2</text>
<text x="137" y="1109.1">2</text><text x="161" y="1109.1">3</text><text x="189" y="1109.1">3</text>
<text x="137" y="1120.3">1</text><text x="161" y="1120.3">4</text><text x="189" y="1120.3">1</text>
<text x="137" y="1131.5">1</text><text x="161" y="1131.5">4</text><text x="189" y="1131.5">3</text>
</g>
</g>
<g id="tbl-product">
<text class="t7" x="289" y="1054.5" text-anchor="middle" font-size="6">product</text>
<rect x="246" y="1058" width="102" height="10" fill="#4f81bd"/>
<rect x="246" y="1068" width="102" height="14.7" fill="#cfd8e8"/>
<rect x="246" y="1082.7" width="102" height="14.7" fill="#e9edf4"/>
<rect x="246" y="1097.4" width="102" height="14.6" fill="#cfd8e8"/>
<path d="M246,1068H348M246,1082.7H348M246,1097.4H348M280,1058V1068M302,1058V1068" stroke="#fff" stroke-width="0.6"/>
<text class="th" x="247" y="1065">ProductID</text><text class="th" x="283" y="1065">Price</text><text class="th" x="304" y="1065">Name</text>
<g class="t7">
<text x="248" y="1077.5">1</text><text x="283" y="1077.5">10</text><text x="304" y="1077.5">beer</text>
<text x="248" y="1092">2</text><text x="283" y="1092">20</text><text x="304" y="1092">diapers</text>
<text x="248" y="1106.5">3</text><text x="283" y="1106.5">5</text><text x="304" y="1106.5">bread</text>
</g>
</g>
<g id="rel-graph">
<line x1="398" y1="1106" x2="380" y2="1081" stroke="#ee8a3c" stroke-width="1" marker-end="url(#ao)"/>
<line x1="413" y1="1105" x2="427" y2="1081" stroke="#ee8a3c" stroke-width="1" marker-end="url(#ao)"/>
<g id="n-main"><ellipse cx="371" cy="1068" rx="17" ry="15" fill="#f08a3c"/><text class="th" x="371" y="1070" text-anchor="middle" font-size="6">main</text></g>
<g id="n-product"><ellipse cx="433" cy="1068" rx="24" ry="15" fill="#4f81bd"/><text class="th" x="433" y="1070" text-anchor="middle" font-size="6">product</text></g>
<g id="n-order"><ellipse cx="406" cy="1119" rx="19" ry="14" fill="#4f81bd"/><text class="th" x="406" y="1121" text-anchor="middle" font-size="6">order</text></g>
<text class="t7" x="380" y="1100" text-anchor="middle" font-size="4.3">UserID</text>
<text class="t7" x="433" y="1100" text-anchor="middle" font-size="4.3">ProductID</text>
</g>
</g>

<!-- ===== Panel 8: subset finetuned (database) ===== -->
<g id="fig3-subset">
<rect x="494" y="997" width="236" height="238" rx="10" fill="#d4d4d4" stroke="#666" stroke-width="0.8"/>
<g id="p8-connectors" class="l8">
<line x1="611" y1="1030" x2="611" y2="1211"/>
<path d="M555,1040L611,1048L671,1061"/>
<path d="M558,1173L611,1154L671,1171M611,1154L666,1126"/>
<line x1="645" y1="1080" x2="661" y2="1080"/>
<line x1="640" y1="1118" x2="671" y2="1118"/>
<line x1="611" y1="1110" x2="611" y2="1100" marker-end="url(#as)"/>
<line x1="693" y1="1090" x2="693" y2="1103" marker-end="url(#as)"/>
<line x1="693" y1="1155" x2="693" y2="1160" marker-end="url(#as)"/>
<line x1="693" y1="1180" x2="693" y2="1190" marker-end="url(#as)"/>
<line x1="611" y1="1200" x2="611" y2="1210" marker-end="url(#as)"/>
</g>
<circle cx="611" cy="1048" r="2.5" fill="#eee" stroke="#444" stroke-width="0.6"/>
<circle cx="611" cy="1154" r="2.5" fill="#eee" stroke="#444" stroke-width="0.6"/>
<text x="530" y="1008" font-size="5.5" font-weight="bold" fill="#222" class="s m">A Nuatiiicz</text>
<text x="613" y="1008" font-size="5.5" font-weight="bold" fill="#222" class="s m">Maar I</text>
<text x="695" y="1030" font-size="5.5" font-weight="bold" fill="#222" class="s m">Ratatiall</text>
<g id="cyl1"><path d="M505,1030V1053A25.5,5 0 0 0 556,1053V1030" class="cy"/><ellipse cx="530.5" cy="1030" rx="25.5" ry="5" class="cy"/>
<text class="t8" x="530" y="1033" font-size="3.5">cuzoibirn irit-</text><text class="t8" x="530" y="1038" font-size="3.5">nd pitc</text></g>
<rect x="585" y="1013" width="50" height="17" class="b8"/>
<text class="t8" x="610" y="1023">(uge Djipeinys</text>
<rect x="671" y="1046" width="45" height="15" class="b8" stroke-width="1.3"/>
<text class="t8" x="693.5" y="1055.5" font-weight="bold">Rtation</text>
<rect x="586" y="1068" width="52" height="20" class="b8" stroke-width="0.6"/>
<text class="t8" x="612" y="1076" font-size="3.5">ousbcat:ed ·sdamaticgrh</text>
<text class="t8" x="612" y="1082" font-size="3.5">hbgis        rreiuts</text>
<rect x="671" y="1071" width="45" height="19" class="b8" stroke-width="1.3"/>
<text class="t8" x="693.5" y="1082.5" font-weight="bold">Uhatlisc:Rnph</text>
<rect x="586" y="1110" width="49" height="18" class="b8" stroke-width="0.6"/>
<text class="t8" x="610" y="1120.5" font-size="4">Mood</text>
<rect x="671" y="1109" width="49" height="19" class="b8"/>
<text class="t8" x="694" y="1114" font-size="3.5">Cupfe\ucet</text>
<path d="M666,1145Q668,1133 700,1127L720,1127V1145L712,1150H670Z" class="cy"/>
<path d="M670,1140Q690,1128 716,1128" class="l8"/>
<line x1="695" y1="1132" x2="695" y2="1148" stroke="#333" stroke-width="0.8"/>
<g id="cyl2"><path d="M506,1156V1183A26,6 0 0 0 558,1183V1156" class="cy"/><ellipse cx="532" cy="1156" rx="26" ry="6" class="cy"/>
<text class="t8" x="532" y="1160" font-size="3.5">pudotitd ic ok</text><text class="t8" x="532" y="1164" font-size="3.5">ncelr</text><text class="t8" x="532" y="1168" font-size="3.5">ciuaiurs</text></g>
<rect x="671" y="1163" width="45" height="17" class="b8" stroke-width="1.3"/>
<text class="t8" x="693.5" y="1173.5" font-weight="bold">Chabsad</text>
<g id="cyl3"><path d="M664,1198V1220A27,6 0 0 0 718,1220V1198" class="cy"/><ellipse cx="691" cy="1198" rx="27" ry="6" class="cy"/>
<text class="t8" x="691" y="1205" font-size="3.5">Commeus ed</text><text class="t8" x="691" y="1209" font-size="3.5">weviostteccre</text><text class="t8" x="691" y="1213" font-size="3.5">scimuliia</text></g>
<rect x="583" y="1211" width="57" height="14" class="b8" stroke-width="1.3"/>
<text class="t8" x="611.5" y="1220" font-weight="bold">Thaitord Retso</text>
</g>

<!-- ===== Panel 9: AI-figures finetuned (database) ===== -->
<g id="fig3-ai">
<rect x="758" y="997" width="244" height="241" fill="#5c5f66"/>
<rect x="758.5" y="997.5" width="243" height="240" fill="none" stroke="#d0d0d0" stroke-width="0.8"/>
<path d="M770,1228V1040Q770,1012 810,1012H955Q990,1012 990,1045V1228" class="l9" stroke="#a8a8ac"/>
<path d="M892,1040Q900,1012 930,1015Q975,1020 985,1060M770,1060Q776,1040 790,1052" class="l9" stroke="#a8a8ac"/>
<path d="M770,1228Q880,1240 990,1228" class="l9" stroke="#a8a8ac"/>
<ellipse cx="798" cy="1197" rx="23" ry="22" class="l9" stroke="#b8b8bc"/>
<ellipse cx="968" cy="1203" rx="22" ry="23" class="l9" stroke="#b8b8bc"/>
<g class="l9">
<path d="M817,1041L942,1045"/>
<path d="M820,1050L873,1065"/>
<path d="M878,1058V1066M865,1066H890"/>
<path d="M891,1076L945,1050"/>
<path d="M878,1087V1168" marker-end="url(#aw)"/>
<path d="M866,1129L818,1148L938,1149M898,1128L952,1150"/>
<path d="M878,1157L942,1152" marker-end="url(#aw)"/>
<path d="M820,1178L866,1180M892,1180L937,1178"/>
<path d="M872,1183L822,1209M888,1183L942,1209"/>
<path d="M822,1210Q880,1214 942,1210"/>
<path d="M866,1130Q860,1118 878,1116Q925,1112 928,1124Q920,1134 898,1136Q885,1146 875,1136Q870,1132 866,1130" stroke="#a0a0a4"/>
<path d="M878,1087Q890,1095 888,1110" stroke="#a0a0a4"/>
<path d="M866,1128H895"/>
</g>
<text class="t9" x="883" y="1030">Retation be dnghh</text>
<text class="t9" x="803" y="1042" font-size="4.5">domtion/</text>
<text class="t9" x="803" y="1050">wetlodos</text>
<text class="t9" x="878" y="1052">dargdin</text>
<text class="t9" x="947" y="1044" font-size="4">maol</text>
<text class="t9" x="953" y="1052">reaptite</text>
<text class="t9" x="803" y="1082">nmatsolor eghl</text>
<text class="t9" x="878" y="1078" font-size="5">esinies</text>
<text class="t9" x="853" y="1115">Tenatiatonilis.· geagdm aooel ambcdionplrdh</text>
<text class="t9" x="802" y="1148">ronatic</text>
<text class="t9" x="802" y="1155">weelton</text>
<text class="t9" x="952" y="1147">ntotoad</text>
<text class="t9" x="952" y="1154">0 apdr</text>
<text class="t9" x="878" y="1175">rwuloe</text>
<text class="t9" x="878" y="1182">datatoe</text>
<text class="t9" x="952" y="1179">peildir</text>
<text class="t9" x="798" y="1206">vegeoiore</text>
<text class="t9" x="878" y="1212">gaagrpl</text>
<text class="t9" x="878" y="1222">enteonal ceaph</text>
<text class="t9" x="878" y="1232">Tindtose enhaforuc ephO</text>
</g>
</svg>
